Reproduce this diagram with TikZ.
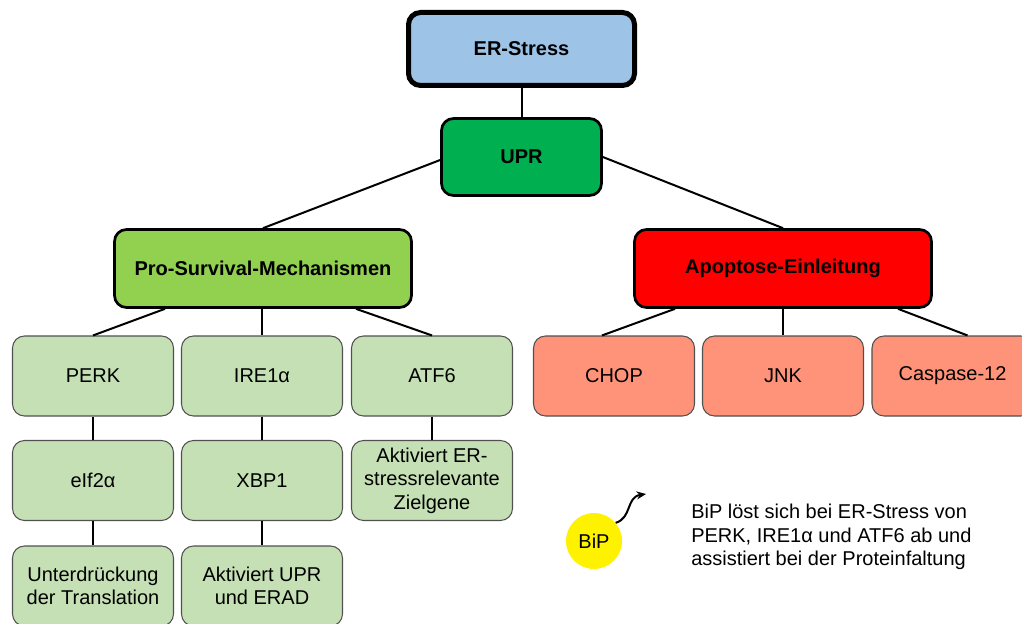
\documentclass[tikz,border=0pt]{standalone}
\usepackage{fontspec}
\setmainfont{Liberation Sans}
\usetikzlibrary{calc,arrows.meta}
\definecolor{erblue}{HTML}{9DC3E6}
\definecolor{uprgreen}{HTML}{00B050}
\definecolor{progreen}{HTML}{92D050}
\definecolor{apored}{HTML}{FF0000}
\definecolor{lightgreen}{HTML}{C5E0B4}
\definecolor{salmon}{HTML}{FF937A}
\definecolor{bipyellow}{HTML}{FFF200}
\definecolor{edgegray}{HTML}{505050}
\begin{document}
\begin{tikzpicture}[x=0.75pt,y=-0.75pt,
  txt/.style={font=\fontsize{15}{17.5}\selectfont, align=center, inner sep=0pt},
  headbox/.style={txt, font=\fontsize{15}{17.5}\selectfont\bfseries, draw=black,
    line width=2pt, rounded corners=9pt},
  leafbox/.style={txt, draw=edgegray, line width=0.8pt, rounded corners=9pt,
    minimum width=120.75pt, minimum height=60pt},
  gleaf/.style={leafbox, fill=lightgreen},
  rleaf/.style={leafbox, fill=salmon},
  link/.style={line width=1.5pt, black}]
\useasboundingbox (0,0) rectangle (1022,624);

% top of the hierarchy
\node[headbox, fill=erblue, line width=3.75pt, minimum width=169.5pt, minimum height=54.75pt] (er) at (521.5,49) {ER-Stress};
\node[headbox, fill=uprgreen, minimum width=120pt, minimum height=57.75pt] (upr) at (521.5,157) {UPR};
\node[headbox, fill=progreen, minimum width=222.75pt, minimum height=58.5pt] (pro) at (263,268.5) {Pro-Survival-Mechanismen};
\node[headbox, fill=apored, minimum width=222.75pt, minimum height=58.5pt] (apo) at (783,268.5) {Apoptose-Einleitung};

% pro-survival branch
\node[gleaf] (perk) at (93,376) {PERK};
\node[gleaf] (ire) at (262,376) {IRE1α};
\node[gleaf] (atf) at (432,376) {ATF6};
\node[gleaf] (eif) at (93,480.5) {eIf2α};
\node[gleaf] (xbp) at (262,480.5) {XBP1};
\node[gleaf] (zielgene) at (432,480.5) {Aktiviert ER-\\stressrelevante\\Zielgene};
\node[gleaf] (transl) at (93,586) {Unterdrückung\\der Translation};
\node[gleaf] (erad) at (262,586) {Aktiviert UPR\\und ERAD};

% apoptosis branch
\node[rleaf] (chop) at (614,376) {CHOP};
\node[rleaf] (jnk) at (783,376) {JNK};
\node[rleaf] (casp) at (952.5,376) {Caspase-12};

% connectors
\draw[link] (er.south) -- (upr.north);
\draw[link] ($(upr.west)+(0,3)$) -- (pro.north);
\draw[link] (upr.east) -- (apo.north);
\draw[link] ($(pro.south)+(-98,0)$) -- (perk.north);
\draw[link] (pro.south -| ire.north) -- (ire.north);
\draw[link] ($(pro.south)+(93,0)$) -- (atf.north);
\draw[link] ($(apo.south)+(-108,0)$) -- ($(chop.north)+(-12,0)$);
\draw[link] (apo.south) -- (jnk.north);
\draw[link] ($(apo.south)+(115,0)$) -- ($(casp.north)+(15,0)$);
\draw[link] (perk.south) -- (eif.north);
\draw[link] (eif.south) -- (transl.north);
\draw[link] (ire.south) -- (xbp.north);
\draw[link] (xbp.south) -- (erad.north);
\draw[link] (atf.south) -- (zielgene.north);

% BiP legend
\node[txt, circle, fill=bipyellow, minimum size=42pt] (bip) at (594,541) {BiP};
\coordinate (bipend) at (646,494);
\draw[line width=1.5pt, -{Stealth[length=7pt,width=6pt]}] (bip.40) .. controls (632,518) and (626,497) .. (bipend);
\node[txt, align=left, anchor=west] (legend) at (691,537)
  {\fontsize{15}{18}\selectfont BiP löst sich bei ER-Stress von\\PERK, IRE1α und ATF6 ab und\\assistiert bei der Proteinfaltung};
\end{tikzpicture}
\end{document}
